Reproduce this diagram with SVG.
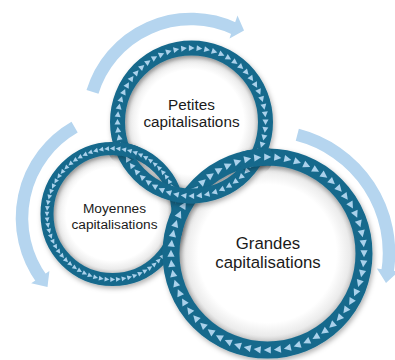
<svg xmlns="http://www.w3.org/2000/svg" width="395" height="360" viewBox="0 0 395 360">
<style>
.arc{fill:none;stroke:#b5d5ef;stroke-width:12.5}
.head{fill:#b5d5ef}
.band{fill:none;stroke:#15698c}
.tri{fill:#aad1eb}
.lbl{font-family:"Liberation Sans",Arial,sans-serif;fill:#1a1a1a;text-anchor:middle}
.disc{fill:url(#inner)}
</style>
<defs>
<radialGradient id="inner">
<stop offset="0" stop-color="#ffffff"/>
<stop offset="0.78" stop-color="#ffffff"/>
<stop offset="0.93" stop-color="#ebebeb"/>
<stop offset="1" stop-color="#cbcbcb"/>
</radialGradient>
<filter id="sh" x="-20%" y="-20%" width="140%" height="140%">
<feDropShadow dx="1.5" dy="2.5" stdDeviation="2.5" flood-color="#000" flood-opacity="0.3"/>
</filter>
<!-- Petites: clockwise, r 74 -->
<path id="tP" class="tri" d="M71,-2.6 L77,-2.6 L74,3.1Z"/>
<g id="tP6"><use href="#tP"/><use href="#tP" transform="rotate(6)"/><use href="#tP" transform="rotate(12)"/><use href="#tP" transform="rotate(18)"/><use href="#tP" transform="rotate(24)"/><use href="#tP" transform="rotate(30)"/></g>
<g id="ringP">
<circle class="band" r="74" stroke-width="15"/>
<use href="#tP6"/><use href="#tP6" transform="rotate(36)"/><use href="#tP6" transform="rotate(72)"/><use href="#tP6" transform="rotate(108)"/><use href="#tP6" transform="rotate(144)"/><use href="#tP6" transform="rotate(180)"/><use href="#tP6" transform="rotate(216)"/><use href="#tP6" transform="rotate(252)"/><use href="#tP6" transform="rotate(288)"/><use href="#tP6" transform="rotate(324)"/>
</g>
<!-- Moyennes: counter-clockwise, r 65.5 -->
<path id="tM" class="tri" d="M63.1,2.2 L67.9,2.2 L65.5,-2.6Z"/>
<g id="tM6"><use href="#tM"/><use href="#tM" transform="rotate(5)"/><use href="#tM" transform="rotate(10)"/><use href="#tM" transform="rotate(15)"/><use href="#tM" transform="rotate(20)"/><use href="#tM" transform="rotate(25)"/></g>
<g id="ringM">
<circle class="band" r="65.5" stroke-width="13"/>
<use href="#tM6"/><use href="#tM6" transform="rotate(30)"/><use href="#tM6" transform="rotate(60)"/><use href="#tM6" transform="rotate(90)"/><use href="#tM6" transform="rotate(120)"/><use href="#tM6" transform="rotate(150)"/><use href="#tM6" transform="rotate(180)"/><use href="#tM6" transform="rotate(210)"/><use href="#tM6" transform="rotate(240)"/><use href="#tM6" transform="rotate(270)"/><use href="#tM6" transform="rotate(300)"/><use href="#tM6" transform="rotate(330)"/>
</g>
<!-- Grandes: clockwise, r 96.5 -->
<path id="tG" class="tri" d="M92.9,-3.3 L100.1,-3.3 L96.5,3.8Z"/>
<g id="tG6"><use href="#tG"/><use href="#tG" transform="rotate(6)"/><use href="#tG" transform="rotate(12)"/><use href="#tG" transform="rotate(18)"/><use href="#tG" transform="rotate(24)"/><use href="#tG" transform="rotate(30)"/></g>
<g id="ringG">
<circle class="band" r="96.5" stroke-width="17"/>
<use href="#tG6"/><use href="#tG6" transform="rotate(36)"/><use href="#tG6" transform="rotate(72)"/><use href="#tG6" transform="rotate(108)"/><use href="#tG6" transform="rotate(144)"/><use href="#tG6" transform="rotate(180)"/><use href="#tG6" transform="rotate(216)"/><use href="#tG6" transform="rotate(252)"/><use href="#tG6" transform="rotate(288)"/><use href="#tG6" transform="rotate(324)"/>
</g>
<clipPath id="cL"><circle cx="123" cy="149" r="15"/></clipPath>
<clipPath id="cR"><circle cx="256" cy="158" r="17"/></clipPath>
</defs>

<g id="connectors">
<path class="arc" d="M92.5,91.9 A103,103 0 0 1 234.5,28.7"/>
<polygon class="head" points="237.5,15.5 244,30.5 229.5,38.5"/>
<path class="arc" d="M74.6,127.2 A104.6,104.6 0 0 0 42,279.5"/>
<polygon class="head" points="31.2,283.3 49.4,270.9 47.5,287"/>
<path class="arc" d="M297.3,134.8 A122,122 0 0 1 387.5,272.1"/>
<polygon class="head" points="398.7,271.5 376.9,268.5 386,283"/>
</g>

<g id="discs">
<circle class="disc" cx="112.5" cy="214" r="59.5"/>
<circle class="disc" cx="191.5" cy="122" r="67"/>
<circle class="disc" cx="267.5" cy="253.5" r="88.5"/>
</g>

<g id="moyennes">
<use href="#ringM" transform="translate(112.5,214)" filter="url(#sh)"/>
<text class="lbl" x="114.5" y="213" font-size="13.7">Moyennes</text>
<text class="lbl" x="114.5" y="228.5" font-size="13.7">capitalisations</text>
</g>
<g id="grandes">
<use href="#ringG" transform="translate(267.5,253.5)" filter="url(#sh)"/>
<text class="lbl" x="268" y="248.5" font-size="16.8">Grandes</text>
<text class="lbl" x="268" y="268" font-size="16.8">capitalisations</text>
</g>
<g id="petites">
<use href="#ringP" transform="translate(191.5,122)" filter="url(#sh)"/>
<text class="lbl" x="191.5" y="110" font-size="15.3">Petites</text>
<text class="lbl" x="191.5" y="127" font-size="15.3">capitalisations</text>
</g>
<g id="weave">
<g clip-path="url(#cL)"><use href="#ringM" transform="translate(112.5,214)" filter="url(#sh)"/></g>
<g clip-path="url(#cR)"><use href="#ringG" transform="translate(267.5,253.5)" filter="url(#sh)"/></g>
</g>
</svg>
